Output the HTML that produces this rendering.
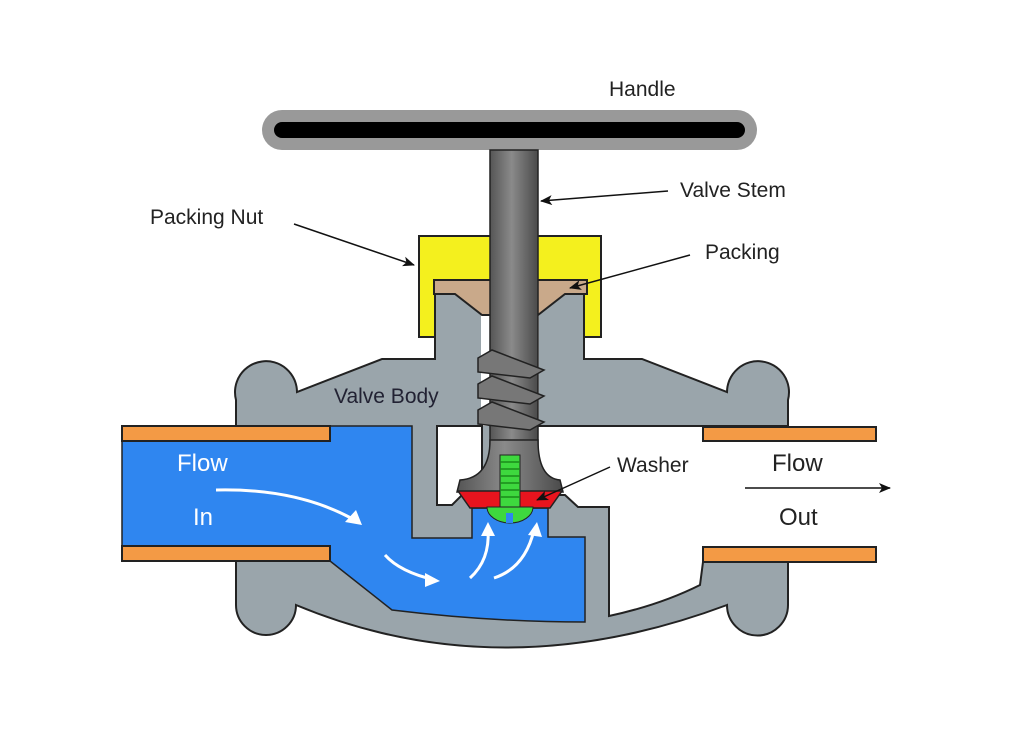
<!DOCTYPE html>
<html><head><meta charset="utf-8"><style>
html,body{margin:0;padding:0;background:#fff;}
svg{display:block;}
text{font-family:"Liberation Sans",sans-serif;}
</style></head><body>
<svg width="1024" height="752" viewBox="0 0 1024 752" xmlns="http://www.w3.org/2000/svg">
<defs>
<linearGradient id="st" x1="0" x2="1" y1="0" y2="0">
<stop offset="0" stop-color="#555"/><stop offset="0.45" stop-color="#8a8a8a"/><stop offset="1" stop-color="#4a4a4a"/>
</linearGradient>
<marker id="ah" markerWidth="12" markerHeight="10" refX="11" refY="5" orient="auto" markerUnits="userSpaceOnUse">
<path d="M0,0 L12,5 L0,10 L3,5 Z" fill="#111"/>
</marker>
</defs>
<rect width="1024" height="752" fill="#fff"/>

<!-- handle -->
<rect x="262" y="110" width="495" height="40" rx="20" fill="#999"/>
<rect x="274" y="122" width="471" height="16" rx="8" fill="#000"/>

<!-- packing nut -->
<rect x="419" y="236" width="182" height="101" fill="#f4f01e" stroke="#222" stroke-width="2"/>

<!-- body gray -->
<path d="M435,292 L435,359 L382,359 L297,392 A31,31 0 1 0 236,400 L236,605 A30,30 0 0 0 296,605 Q500,690 727,605 A30,30 0 0 0 788,605 L788,400 A31,31 0 1 0 727,392 L642,359 L584,359 L584,292 Z" fill="#9aa5ab" stroke="#222" stroke-width="2"/>

<!-- white slot around stem -->
<rect x="481" y="300" width="58" height="126" fill="#fff"/>
<!-- left white cavity -->
<path d="M437,426 L482,426 L482,495 L462,495 L452,505 L437,505 Z" fill="#fff" stroke="#222" stroke-width="2"/>
<!-- right white region -->
<path d="M538,426 L790,426 L790,562 L703,562 L700,585 Q660,605 609,616 L609,507 L578,507 L565,495 L540,495 Z" fill="#fff"/>
<path d="M703,562 L700,585 Q660,605 609,616 L609,507 L578,507 L565,495 L540,495" fill="none" stroke="#222" stroke-width="2"/>
<line x1="538" y1="426" x2="788" y2="426" stroke="#222" stroke-width="2"/>

<!-- blue -->
<path d="M122,441 L330,441 L330,426 L412,426 L412,538 L472,538 L472,508 L548,508 L548,537 L585,537 L585,622 Q490,622 392,610 L330,561 L330,546 L122,546 Z" fill="#2f86f0" stroke="#222" stroke-width="1.5"/>

<!-- pipes -->
<rect x="122" y="426" width="208" height="15" fill="#f39a45" stroke="#222" stroke-width="2"/>
<rect x="122" y="546" width="208" height="15" fill="#f39a45" stroke="#222" stroke-width="2"/>
<rect x="703" y="427" width="173" height="14" fill="#f39a45" stroke="#222" stroke-width="2"/>
<rect x="703" y="547" width="173" height="15" fill="#f39a45" stroke="#222" stroke-width="2"/>

<!-- packing -->
<path d="M434,280 L587,280 L587,294 L565,294 L538,315 L482,315 L455,294 L434,294 Z" fill="#c9a98a" stroke="#222" stroke-width="2"/>

<!-- stem -->
<rect x="490" y="150" width="48" height="310" fill="url(#st)" stroke="#222" stroke-width="1.5"/>
<path d="M490,440 Q490,478 460,480 L457,492 L563,492 L560,480 Q538,478 538,440 Z" fill="url(#st)" stroke="#222" stroke-width="1.5"/>
<!-- threads -->
<g fill="#777" stroke="#222" stroke-width="1.5">
<path d="M478,358 L492,350 L544,370 L530,378 L478,372 Z"/>
<path d="M478,384 L492,376 L544,396 L530,404 L478,398 Z"/>
<path d="M478,410 L492,402 L544,422 L530,430 L478,424 Z"/>
</g>
<!-- washer -->
<path d="M458,491 L562,491 L550,508 L470,508 Z" fill="#e8141e" stroke="#222" stroke-width="1.5"/>
<!-- screw -->
<path d="M487,507 A23,16 0 0 0 533,507 Z" fill="#3ed83e" stroke="#222" stroke-width="1"/>
<rect x="506" y="513" width="7" height="10" fill="#2f86f0"/>
<rect x="500" y="455" width="20" height="52" fill="#3ed83e" stroke="#222" stroke-width="1"/>
<g stroke="#1a8a1a" stroke-width="1.5">
<line x1="500" y1="462" x2="520" y2="462"/><line x1="500" y1="469" x2="520" y2="469"/><line x1="500" y1="476" x2="520" y2="476"/><line x1="500" y1="483" x2="520" y2="483"/><line x1="500" y1="490" x2="520" y2="490"/><line x1="500" y1="497" x2="520" y2="497"/>
</g>

<!-- white flow arrows -->
<g fill="none" stroke="#fff" stroke-width="3">
<path d="M216,490 Q300,488 358,522"/>
<path d="M385,555 Q400,572 435,580"/>
<path d="M470,578 Q490,560 488,530"/>
<path d="M494,578 Q525,568 534,530"/>
</g>
<g fill="#fff">
<path d="M362,525 L345,522 L356,510 Z"/>
<path d="M440,581 L425,587 L425,573 Z"/>
<path d="M488,522 L481,536 L495,536 Z"/>
<path d="M537,522 L528,535 L542,537 Z"/>
</g>

<!-- labels -->
<g fill="#222" font-size="21">
<text x="609" y="96">Handle</text>
<text x="680" y="197">Valve Stem</text>
<text x="150" y="224">Packing Nut</text>
<text x="705" y="259">Packing</text>
<text x="334" y="403" fill="#223">Valve Body</text>
<text x="617" y="472">Washer</text>
<text x="772" y="471" font-size="24">Flow</text>
<text x="779" y="525" font-size="24">Out</text>
</g>
<text x="177" y="471" font-size="24" fill="#fff">Flow</text>
<text x="193" y="525" font-size="24" fill="#fff">In</text>

<!-- leader arrows -->
<g stroke="#111" stroke-width="1.5" fill="none" marker-end="url(#ah)">
<line x1="294" y1="224" x2="414" y2="265"/>
<line x1="668" y1="191" x2="541" y2="201"/>
<line x1="690" y1="255" x2="570" y2="288"/>
<line x1="610" y1="467" x2="537" y2="500"/>
<line x1="745" y1="488" x2="890" y2="488"/>
</g>
</svg>
</body></html>
